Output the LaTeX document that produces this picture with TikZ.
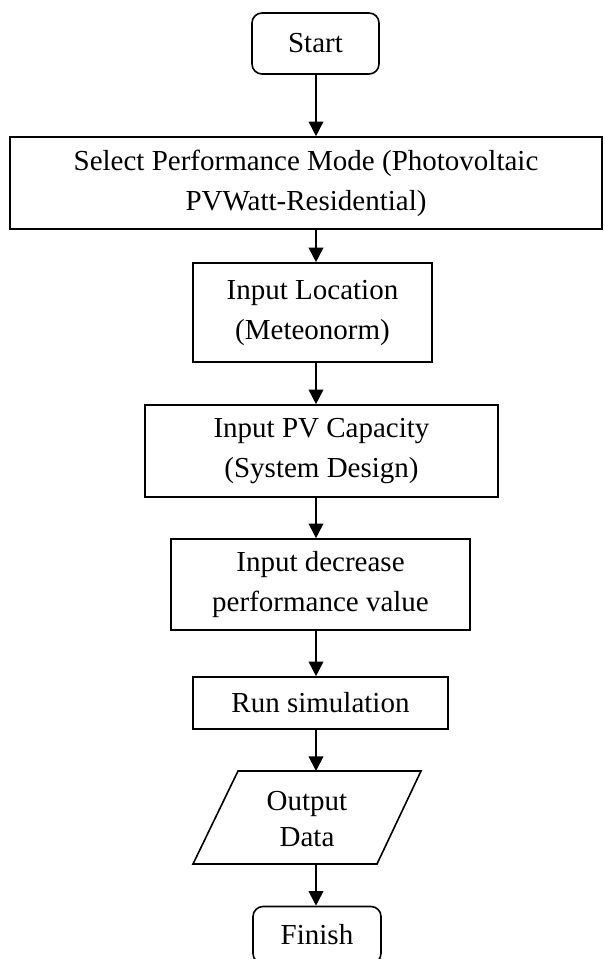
\documentclass[tikz,border=0pt]{standalone}
\usepackage{fontspec}
\setmainfont{Liberation Serif}
\usetikzlibrary{arrows.meta}
\begin{document}
\begin{tikzpicture}[x=0.75pt,y=-0.75pt,
  box/.style={draw,line width=1.2pt,inner sep=0pt,align=center,
    font=\fontsize{21.75}{30}\selectfont},
  term/.style={box,rounded corners=7.5pt},
  flow/.style={line width=1.3pt,-{Triangle[width=11pt,length=11pt]}},
  txt/.style={inner sep=0pt,align=center,font=\fontsize{21.75}{27}\selectfont}]
\useasboundingbox (0,0) rectangle (604,959);
\coordinate (spine) at (316,0);
\node[term,minimum width=95.25pt,minimum height=45.75pt] (start) at (315.5,43.5) {Start};
\node[box,minimum width=444pt,minimum height=69pt] (select) at (306,183)
  {Select Performance Mode (Photovoltaic\\PVWatt-Residential)};
\node[box,minimum width=179.25pt,minimum height=74.25pt] (loc) at (312.5,312.5)
  {Input Location\\(Meteonorm)};
\node[box,minimum width=264.75pt,minimum height=69pt] (pv) at (321.5,451)
  {Input PV Capacity\\(System Design)};
\node[box,minimum width=224.25pt,minimum height=68.25pt] (dec) at (320.5,584.5)
  {Input decrease\\performance value};
\node[box,minimum width=191.25pt,minimum height=39pt] (run) at (320.5,703)
  {Run simulation};
\draw[line width=1.2pt,line join=miter] (238,771) -- (421,771) -- (377,864) -- (193,864) -- cycle;
\node[txt] (out) at (307,819) {Output\\Data};
\coordinate (outtop) at (316,771);
\coordinate (outbot) at (316,864);
\node[term,minimum width=96pt,minimum height=42.75pt] (finish) at (317,935) {Finish};
\draw[flow] (start.south -| spine) -- (spine |- select.north);
\draw[flow] (select.south -| spine) -- (spine |- loc.north);
\draw[flow] (loc.south -| spine) -- (spine |- pv.north);
\draw[flow] (pv.south -| spine) -- (spine |- dec.north);
\draw[flow] (dec.south -| spine) -- (spine |- run.north);
\draw[flow] (run.south -| spine) -- (outtop);
\draw[flow] (outbot) -- (outbot |- finish.north);
\end{tikzpicture}
\end{document}
